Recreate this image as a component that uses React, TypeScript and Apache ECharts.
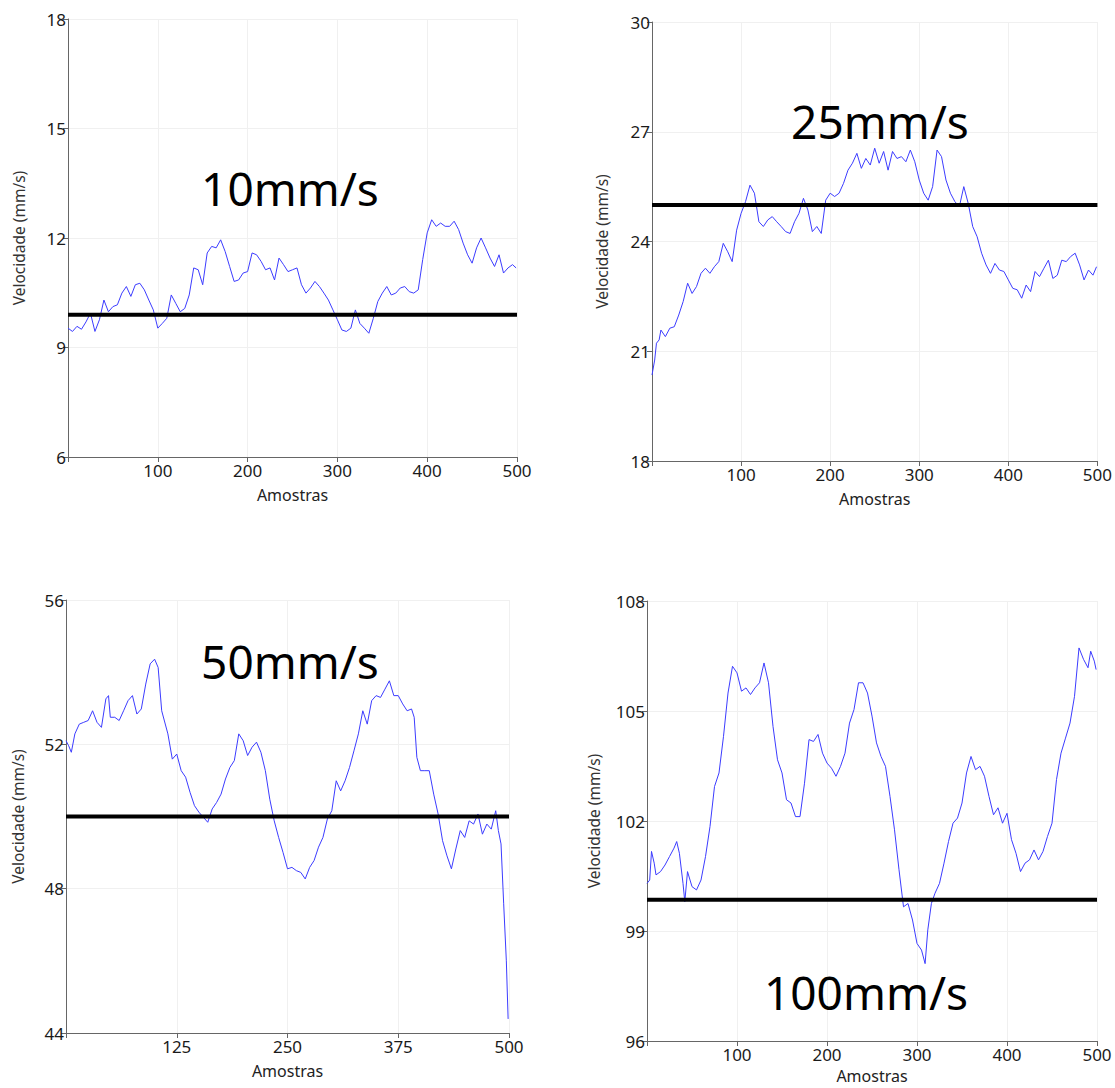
import React, { useEffect, useRef } from "react";
import * as echarts from "echarts";

// ---------- data ----------
const xs1 = [0,5,10,15,20,25,30,35,40,45,50,55,60,65,70,75,80,85,90,95,100,105,110,115,120,125,130,135,140,145,150,155,160,165,170,175,180,185,190,195,200,205,210,215,220,225,230,235,240,245,250,255,260,265,270,275,280,285,290,295,300,305,310,315,320,325,330,335,340,345,350,355,360,365,370,375,380,385,390,395,400,405,410,415,420,425,430,435,440,445,450,455,460,465,470,475,480,485,490,495,499];
const ys1 = [9.53,9.44,9.58,9.5,9.7,9.94,9.44,9.76,10.3,9.98,10.12,10.17,10.49,10.67,10.4,10.72,10.76,10.58,10.3,10.03,9.53,9.66,9.8,10.44,10.21,9.98,10.07,10.44,11.18,11.13,10.72,11.59,11.77,11.73,11.95,11.63,11.22,10.81,10.85,11.04,11.08,11.59,11.54,11.36,11.13,11.18,10.85,11.45,11.27,11.08,11.13,11.18,10.72,10.49,10.63,10.81,10.67,10.49,10.3,10.03,9.76,9.48,9.44,9.53,10.03,9.66,9.53,9.39,9.8,10.26,10.49,10.67,10.44,10.49,10.63,10.67,10.53,10.49,10.58,11.41,12.14,12.5,12.32,12.41,12.32,12.32,12.46,12.23,11.86,11.54,11.31,11.73,12.0,11.73,11.45,11.22,11.54,11.04,11.18,11.27,11.18];

const xs2 = [0,3,5,8,10,15,20,25,30,35,40,45,50,55,60,65,70,75,80,85,90,95,100,105,110,115,120,125,130,135,140,145,150,155,160,165,170,175,180,185,190,195,200,205,210,215,220,225,230,235,240,245,250,255,260,265,270,275,280,285,290,295,300,305,310,315,320,325,330,335,340,345,350,355,360,365,370,375,380,385,390,395,400,405,410,415,420,425,430,435,440,445,450,455,460,465,470,475,480,485,490,495,499];
const ys2 = [20.35,20.76,21.22,21.31,21.58,21.4,21.63,21.67,21.99,22.36,22.86,22.58,22.77,23.13,23.27,23.13,23.31,23.45,23.95,23.72,23.45,24.31,24.77,25.09,25.54,25.32,24.54,24.41,24.59,24.68,24.54,24.41,24.27,24.22,24.54,24.77,25.18,24.86,24.27,24.41,24.22,25.13,25.32,25.23,25.32,25.59,25.95,26.14,26.41,26.0,26.27,26.09,26.55,26.14,26.46,25.95,26.46,26.27,26.32,26.18,26.5,26.18,25.68,25.32,25.13,25.5,26.5,26.32,25.68,25.32,25.09,24.95,25.5,25.04,24.41,24.13,23.68,23.36,23.13,23.4,23.22,23.18,22.95,22.72,22.68,22.45,22.81,22.63,23.18,23.04,23.27,23.49,22.99,23.08,23.49,23.45,23.59,23.68,23.36,22.95,23.22,23.08,23.31];

const xs3 = [0,3,6,10,15,20,25,30,35,40,45,48,50,55,60,65,70,75,80,85,90,95,100,104,108,115,120,125,130,135,140,145,150,155,160,165,170,175,180,185,190,195,200,205,210,215,220,225,230,235,240,245,250,255,260,265,270,275,280,285,290,295,300,305,310,315,320,325,330,335,340,345,350,355,360,365,370,375,380,385,390,393,396,400,405,410,415,420,425,430,435,440,445,450,455,460,465,470,475,480,485,488,491,494,497,499];
const ys3 = [52.1,51.96,51.78,52.29,52.56,52.61,52.66,52.93,52.61,52.47,53.26,53.35,52.75,52.75,52.66,52.93,53.21,53.35,52.84,52.98,53.67,54.23,54.36,54.13,52.93,52.29,51.59,51.73,51.27,51.09,50.67,50.3,50.12,49.98,49.84,50.21,50.39,50.62,51.04,51.36,51.55,52.29,52.1,51.69,51.92,52.06,51.78,51.27,50.48,49.88,49.42,49.0,48.55,48.59,48.5,48.45,48.27,48.59,48.78,49.15,49.42,49.93,50.16,50.99,50.71,50.99,51.36,51.82,52.29,52.93,52.56,53.21,53.35,53.3,53.53,53.76,53.35,53.35,53.12,52.93,52.98,52.75,51.64,51.27,51.27,51.27,50.62,50.07,49.33,48.91,48.55,49.1,49.61,49.42,49.88,49.79,50.07,49.51,49.79,49.65,50.16,49.61,49.24,47.58,46.0,44.39];

const xs4 = [0,3,5,8,10,15,20,25,30,33,36,40,42,45,50,55,60,65,70,75,80,85,90,95,100,105,110,115,120,125,130,135,140,145,150,155,160,165,170,175,180,185,190,195,200,205,210,215,220,225,230,235,240,245,250,255,260,265,270,275,280,285,290,295,300,305,309,312,316,320,325,330,335,340,345,350,355,360,365,370,375,380,385,390,395,400,405,410,415,420,425,430,435,440,445,450,455,460,465,470,475,480,485,490,493,497,499];
const ys4 = [100.3,100.39,101.17,100.85,100.53,100.62,100.8,101.03,101.26,101.44,101.12,100.3,99.8,100.62,100.21,100.12,100.39,101.03,101.85,102.94,103.31,104.31,105.49,106.22,106.04,105.54,105.63,105.45,105.63,105.77,106.31,105.77,104.58,103.67,103.31,102.58,102.49,102.12,102.12,103.03,104.22,104.17,104.36,103.85,103.58,103.44,103.22,103.49,103.85,104.67,105.04,105.77,105.77,105.49,104.86,104.13,103.76,103.49,102.67,101.76,100.67,99.66,99.75,99.3,98.66,98.48,98.11,99.03,99.75,100.03,100.3,100.85,101.44,101.94,102.08,102.49,103.31,103.76,103.4,103.49,103.22,102.67,102.17,102.36,101.94,102.21,101.49,101.12,100.62,100.85,100.94,101.21,100.94,101.17,101.58,101.94,103.13,103.85,104.26,104.67,105.4,106.72,106.41,106.18,106.63,106.36,106.13];

const refs = [9.9, 25, 50, 99.85];
const titles = ["10mm/s", "25mm/s", "50mm/s", "100mm/s"];
const yMins = [6, 18, 44, 96];
const yMaxs = [18, 30, 56, 108];
const yIntervals = [3, 3, 4, 3];
const xIntervals = [100, 100, 125, 100];
const xName = "Amostras";
const yName = "Velocidade (mm/s)";

const FONT = "'Noto Sans', sans-serif";

export default function App() {
  const ref = useRef<HTMLDivElement>(null);
  useEffect(() => {
    document.body.style.margin = "0";
    const chart = echarts.init(ref.current!, null, { renderer: "svg" });
    const grids = [
      { left: 68, top: 19, width: 449, height: 438 },
      { left: 652, top: 22, width: 450, height: 439 },
      { left: 66, top: 600, width: 443, height: 433 },
      { left: 647, top: 601, width: 450, height: 440 },
    ];
    const nameGaps = [41, 42, 40, 45];
    const xNameGaps = [30, 30, 30, 27];
    const seriesX = [xs1, xs2, xs3, xs4];
    const seriesY = [ys1, ys2, ys3, ys4];
    const xAxis: any[] = [];
    const yAxis: any[] = [];
    const series: any[] = [];
    for (let i = 0; i < 4; i++) {
      xAxis.push({
        type: "value",
        gridIndex: i,
        min: 0,
        max: 500,
        interval: xIntervals[i],
        name: xName,
        nameLocation: "middle",
        nameGap: xNameGaps[i],
        nameTextStyle: { fontFamily: FONT, fontSize: 16, color: "#222" },
        axisLine: { show: true, onZero: false, lineStyle: { color: "#666", width: 1 } },
        axisTick: { show: true, length: 5, lineStyle: { color: "#666" } },
        axisLabel: {
          fontFamily: FONT,
          fontSize: 17,
          color: "#1a1a1a",
          margin: 5,
          formatter: (v: number) => (v === 0 ? "" : String(v)),
        },
        splitLine: { show: true, lineStyle: { color: "#f0f0f0", width: 1 } },
      });
      yAxis.push({
        type: "value",
        gridIndex: i,
        min: yMins[i],
        max: yMaxs[i],
        interval: yIntervals[i],
        name: yName,
        nameLocation: "middle",
        nameGap: nameGaps[i],
        nameTextStyle: { fontFamily: FONT, fontSize: 15.5, color: "#333" },
        axisLine: { show: true, onZero: false, lineStyle: { color: "#666", width: 1 } },
        axisTick: { show: true, length: 5, lineStyle: { color: "#666" } },
        axisLabel: { fontFamily: FONT, fontSize: 17, color: "#1a1a1a", margin: 2 },
        splitLine: { show: true, lineStyle: { color: "#f0f0f0", width: 1 } },
      });
      const xsArr = seriesX[i];
      const ysArr = seriesY[i];
      series.push({
        type: "line",
        xAxisIndex: i,
        yAxisIndex: i,
        showSymbol: false,
        symbol: "none",
        lineStyle: { color: "#3c3cff", width: 1 },
        data: xsArr.map((x, k) => [x, ysArr[k]]),
        z: 2,
      });
      series.push({
        type: "line",
        xAxisIndex: i,
        yAxisIndex: i,
        symbol: "none",
        lineStyle: { color: "#000", width: 4 },
        data: [
          [0, refs[i]],
          [500, refs[i]],
        ],
        z: 3,
      });
    }
    const textPos = [
      [290, 188],
      [880, 121],
      [290, 661],
      [866, 992],
    ];
    const graphic = titles.map((t, i) => ({
      type: "text",
      x: textPos[i][0],
      y: textPos[i][1],
      z: 10,
      style: {
        text: t,
        fontFamily: FONT,
        fontSize: 46,
        fill: "#000",
        textAlign: "center",
        textVerticalAlign: "middle",
      },
    }));
    chart.setOption({
      animation: false,
      backgroundColor: "#fff",
      grid: grids,
      xAxis,
      yAxis,
      series,
      graphic,
    });
    return () => chart.dispose();
  }, []);
  return <div ref={ref} style={{ width: 1115, height: 1088 }} />;
}
